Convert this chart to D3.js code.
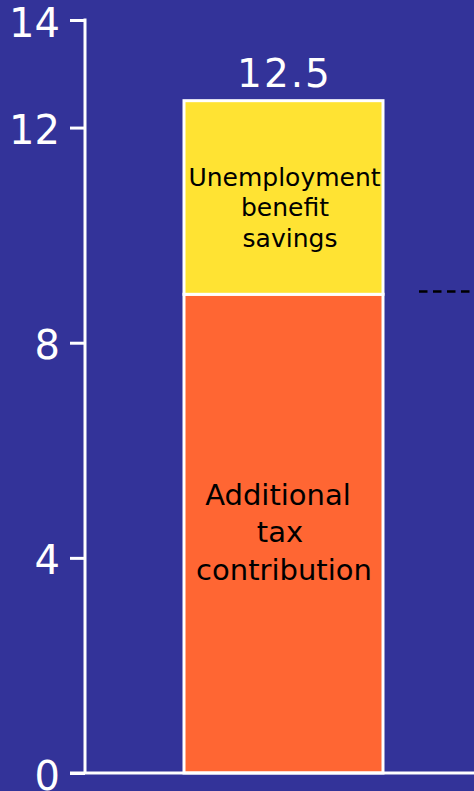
<!DOCTYPE html>
<html>
<head>
<meta charset="utf-8">
<script src="https://cdn.jsdelivr.net/npm/d3@7"></script>
<style>
  html, body { margin: 0; padding: 0; background: #333399; }
  svg { display: block; }
</style>
</head>
<body>
<svg id="chart" width="474" height="791"></svg>
<script>
// Stacked components of the single bar (bottom to top)
const categories = ["Total"];
const segmentNames = ["Additional tax contribution", "Unemployment benefit savings"];
const segmentLabels = [["Additional", "tax", "contribution"], ["Unemployment", "benefit", "savings"]];
const segmentValues = [8.9, 3.6];
const totalLabel = "12.5";
const tickValues = [0, 4, 8, 12, 14];
const referenceLevel = [8.95];

const W = 474, H = 791;
const axisX = 85, baseY = 773, topY = 20;
const colors = ["#ff6633", "#ffe333"];

const svg = d3.select("#chart");
svg.append("rect").attr("width", W).attr("height", H).attr("fill", "#333399");

const y = d3.scaleLinear().domain([0, 14]).range([baseY, topY]);
const x = d3.scaleBand().domain(categories).range([184, 383]).padding(0);

// stack the segments
let acc = 0;
const stacked = segmentValues.map((v, i) => {
  const d = { name: segmentNames[i], y0: acc, y1: acc + v, lines: segmentLabels[i], color: colors[i] };
  acc += v;
  return d;
});

const bar = svg.append("g");
bar.selectAll("rect").data(stacked).join("rect")
  .attr("x", x(categories[0]))
  .attr("width", x.bandwidth())
  .attr("y", d => y(d.y1))
  .attr("height", d => y(d.y0) - y(d.y1))
  .attr("fill", d => d.color)
  .attr("stroke", "#ffffff")
  .attr("stroke-width", 3);

// segment labels: font size, line height, vertical shift, per-line horizontal nudges
const labelStyle = [
  { size: 29, lh: 37.5, dy: -2, dx: [-5.5, -3.5, 0.5] },
  { size: 25, lh: 30.5, dy: 10, dx: [1, 1.5, 6.5] }
];
stacked.forEach((d, i) => {
  const st = labelStyle[i];
  const cx = x(categories[0]) + x.bandwidth() / 2;
  const cy = (y(d.y0) + y(d.y1)) / 2 + st.dy;
  const n = d.lines.length;
  const t = svg.append("text")
    .attr("text-anchor", "middle")
    .attr("font-family", "DejaVu Sans, Verdana, sans-serif")
    .attr("font-size", st.size)
    .attr("fill", "#000000");
  d.lines.forEach((ln, k) => {
    t.append("tspan")
      .attr("x", cx + st.dx[k])
      .attr("y", cy + (k - (n - 1) / 2) * st.lh)
      .attr("dy", "0.36em")
      .text(ln);
  });
});

// total label above the bar
svg.append("text")
  .attr("x", x(categories[0]) + x.bandwidth() / 2 + 1)
  .attr("y", y(acc) - 14)
  .attr("text-anchor", "middle")
  .attr("font-family", "DejaVu Sans, Verdana, sans-serif")
  .attr("font-size", 39)
  .attr("letter-spacing", 2)
  .attr("fill", "#ffffff")
  .text(totalLabel);

// dashed reference level to the right
svg.selectAll("line.ref").data(referenceLevel).join("line")
  .attr("class", "ref")
  .attr("x1", 419).attr("x2", W)
  .attr("y1", d => y(d)).attr("y2", d => y(d))
  .attr("stroke", "#000000")
  .attr("stroke-width", 2.5)
  .attr("stroke-dasharray", "8.5,5.5");

// y axis
const axis = d3.axisLeft(y).tickValues(tickValues).tickSize(15).tickPadding(10).tickFormat(d3.format("d"));
const gAxis = svg.append("g").attr("transform", `translate(${axisX},0)`).call(axis);
gAxis.select(".domain").remove();
gAxis.append("line")
  .attr("x1", 0).attr("x2", 0)
  .attr("y1", y(14) - 1.5).attr("y2", y(0))
  .attr("stroke", "#ffffff").attr("stroke-width", 3);
gAxis.selectAll(".tick line").attr("stroke", "#ffffff").attr("stroke-width", 3);
gAxis.selectAll(".tick text")
  .attr("fill", "#ffffff")
  .attr("font-family", "DejaVu Sans, Verdana, sans-serif")
  .attr("font-size", 40)
  .attr("dy", "0.4em");

// baseline
svg.append("line")
  .attr("x1", axisX - 15).attr("x2", W)
  .attr("y1", y(0)).attr("y2", y(0))
  .attr("stroke", "#ffffff").attr("stroke-width", 3);
</script>
</body>
</html>
